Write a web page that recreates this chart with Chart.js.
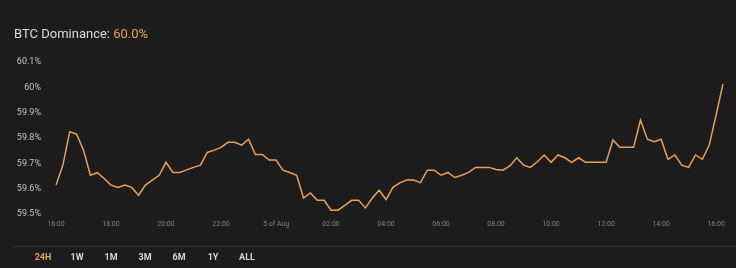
<!DOCTYPE html>
<html>
<head>
  <title>BTC Dominance</title>
  <script src="https://cdn.jsdelivr.net/npm/chart.js"></script>
  <style>
    html, body { margin: 0; padding: 0; background: #1c1c1c; }
    body { width: 736px; height: 268px; position: relative; overflow: hidden; font-family: Roboto, Arial, sans-serif; }
    #title { position: absolute; left: 14px; top: 26px; font-size: 13px; color: #dcdcdc; }
    #title span { color: #e9a35a; }
    #wrap { position: absolute; left: 0; top: 0; width: 736px; height: 268px; }
    #sep { position: absolute; left: 13px; right: 0; top: 246px; height: 1px; background: #2f2f2f; }
    #ranges { position: absolute; top: 252px; left: 0; font-size: 9px; font-weight: bold; color: #d6d6d6; }
    #ranges div { position: absolute; width: 30px; text-align: center; margin-left: -15px; }
    #ranges .on { color: #e9a35a; }
  </style>
</head>
<body>
  <div id="wrap"><canvas id="chart" width="736" height="268"></canvas></div>
  <div id="title">BTC Dominance: <span>60.0%</span></div>
  <div id="sep"></div>
  <div id="ranges"></div>

  <script>
    // 15 minute samples, 16:00 -> 16:15 next day
    const dominance = [
      59.614, 59.693, 59.825, 59.815, 59.752, 59.653, 59.663, 59.640,
      59.614, 59.605, 59.614, 59.605, 59.574, 59.614, 59.634, 59.653,
      59.704, 59.664, 59.664, 59.674, 59.684, 59.693, 59.743, 59.752,
      59.763, 59.783, 59.783, 59.772, 59.795, 59.735, 59.735, 59.713,
      59.713, 59.673, 59.664, 59.653, 59.563, 59.583, 59.554, 59.554,
      59.515, 59.515, 59.534, 59.554, 59.554, 59.524, 59.563, 59.594,
      59.557, 59.605, 59.623, 59.634, 59.634, 59.624, 59.673, 59.673,
      59.653, 59.664, 59.644, 59.653, 59.664, 59.684, 59.684, 59.684,
      59.676, 59.673, 59.690, 59.722, 59.693, 59.684, 59.706, 59.733,
      59.704, 59.733, 59.722, 59.704, 59.722, 59.704, 59.704, 59.704,
      59.704, 59.792, 59.763, 59.763, 59.763, 59.871, 59.795, 59.785,
      59.795, 59.716, 59.733, 59.693, 59.684, 59.733, 59.716, 59.772,
      59.891, 60.014
    ];
    const tickLabels = ["16:00", "18:00", "20:00", "22:00", "5 of Aug", "02:00", "04:00",
                        "06:00", "08:00", "10:00", "12:00", "14:00", "16:00"];
    const rangeNames = ["24H", "1W", "1M", "3M", "6M", "1Y", "ALL"];

    let times = [];
    for (let i = 0; i < dominance.length; i++) {
      let m = 16 * 60 + i * 15;
      let h = Math.floor(m / 60) % 24;
      times.push(String(h).padStart(2, "0") + ":" + String(m % 60).padStart(2, "0"));
    }

    let ranges = document.getElementById("ranges");
    rangeNames.forEach((r, i) => {
      let d = document.createElement("div");
      d.textContent = r;
      d.style.left = (43 + i * 34) + "px";
      if (i === 0) d.className = "on";
      ranges.appendChild(d);
    });

    new Chart(document.getElementById("chart"), {
      type: "line",
      data: {
        labels: times,
        datasets: [{
          data: dominance,
          borderColor: "#eaa157",
          borderWidth: 1.5,
          pointRadius: 0,
          tension: 0
        }]
      },
      options: {
        responsive: false,
        animation: false,
        layout: { padding: { top: 62, right: 13, bottom: 34, left: 0 } },
        plugins: { legend: { display: false }, tooltip: { enabled: false } },
        scales: {
          x: {
            grid: { display: false, drawTicks: false },
            border: { display: false },
            afterFit: s => { s.height = 20; },
            ticks: {
              autoSkip: false,
              maxRotation: 0,
              padding: 6,
              color: "#858585",
              font: { family: "Roboto", size: 7 },
              callback: (v, i) => i % 8 === 0 ? tickLabels[i / 8] : null
            }
          },
          y: {
            min: 59.5,
            max: 60.1,
            grid: { display: false, drawTicks: false },
            border: { display: false },
            afterFit: s => { s.width = 56; },
            ticks: {
              stepSize: 0.1,
              padding: 15,
              color: "#c4c4c4",
              font: { family: "Roboto", size: 9 },
              callback: v => parseFloat(v.toFixed(1)) + "%"
            }
          }
        }
      }
    });
  </script>
</body>
</html>
